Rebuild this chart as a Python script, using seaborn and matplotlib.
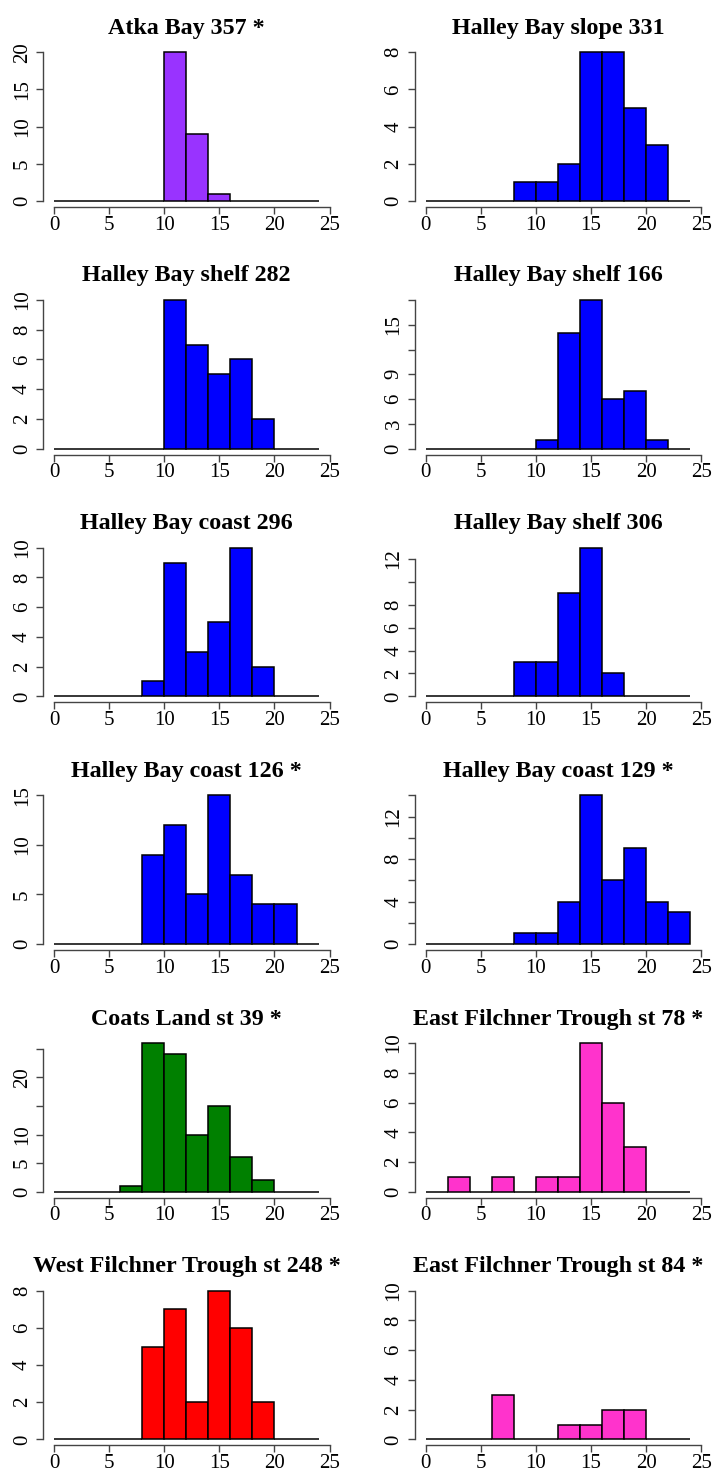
import numpy as np
import pandas as pd
import seaborn as sns
import matplotlib
matplotlib.use("Agg")
import matplotlib.pyplot as plt

sns.set_style("ticks")
plt.rcParams['font.family'] = ['Liberation Serif', 'DejaVu Serif']
plt.rcParams['text.color'] = 'black'
plt.rcParams['xtick.labelcolor'] = 'black'
plt.rcParams['ytick.labelcolor'] = 'black'

# bin edges (2-unit bins from 0 to 24) and counts per station
edges = list(range(0, 26, 2))
centers = [1, 3, 5, 7, 9, 11, 13, 15, 17, 19, 21, 23]

titles = ["Atka Bay 357 *", "Halley Bay slope 331",
          "Halley Bay shelf 282", "Halley Bay shelf 166",
          "Halley Bay coast 296", "Halley Bay shelf 306",
          "Halley Bay coast 126 *", "Halley Bay coast 129 *",
          "Coats Land st 39 *", "East Filchner Trough st 78 *",
          "West Filchner Trough st 248 *", "East Filchner Trough st 84 *"]

atka_357 = [0, 0, 0, 0, 0, 20, 9, 1, 0, 0, 0, 0]
slope_331 = [0, 0, 0, 0, 1, 1, 2, 8, 8, 5, 3, 0]
shelf_282 = [0, 0, 0, 0, 0, 10, 7, 5, 6, 2, 0, 0]
shelf_166 = [0, 0, 0, 0, 0, 1, 14, 18, 6, 7, 1, 0]
coast_296 = [0, 0, 0, 0, 1, 9, 3, 5, 10, 2, 0, 0]
shelf_306 = [0, 0, 0, 0, 3, 3, 9, 13, 2, 0, 0, 0]
coast_126 = [0, 0, 0, 0, 9, 12, 5, 15, 7, 4, 4, 0]
coast_129 = [0, 0, 0, 0, 1, 1, 4, 14, 6, 9, 4, 3]
coats_39 = [0, 0, 0, 1, 26, 24, 10, 15, 6, 2, 0, 0]
eft_78 = [0, 1, 0, 1, 0, 1, 1, 10, 6, 3, 0, 0]
wft_248 = [0, 0, 0, 0, 5, 7, 2, 8, 6, 2, 0, 0]
eft_84 = [0, 0, 0, 3, 0, 0, 1, 1, 2, 2, 0, 0]

counts = [atka_357, slope_331, shelf_282, shelf_166, coast_296, shelf_306,
          coast_126, coast_129, coats_39, eft_78, wft_248, eft_84]

colors = ["#9933FF", "#0000FF", "#0000FF", "#0000FF", "#0000FF", "#0000FF",
          "#0000FF", "#0000FF", "#008000", "#FF33CC", "#FF0000", "#FF33CC"]

# y range top (max count, or fixed) and y ticks / labels as R drew them
ytop = [20, 8, 10, 18, 10, 13, 15, 14, 26, 10, 8, 10]
yticks = [[0, 5, 10, 15, 20], [0, 2, 4, 6, 8], [0, 2, 4, 6, 8, 10],
          [0, 3, 6, 9, 12, 15, 18], [0, 2, 4, 6, 8, 10], [0, 2, 4, 6, 8, 10, 12],
          [0, 5, 10, 15], [0, 2, 4, 6, 8, 10, 12, 14], [0, 5, 10, 15, 20, 25],
          [0, 2, 4, 6, 8, 10], [0, 2, 4, 6, 8], [0, 2, 4, 6, 8, 10]]
ylabels = [["0", "5", "10", "15", "20"], ["0", "2", "4", "6", "8"],
           ["0", "2", "4", "6", "8", "10"], ["0", "3", "6", "9", "", "15", ""],
           ["0", "2", "4", "6", "8", "10"], ["0", "2", "4", "6", "8", "", "12"],
           ["0", "5", "10", "15"], ["0", "", "4", "", "8", "", "12", ""],
           ["0", "5", "10", "", "20", ""], ["0", "2", "4", "6", "8", "10"],
           ["0", "2", "4", "6", "8"], ["0", "2", "4", "6", "8", "10"]]
xticks = [0, 5, 10, 15, 20, 25]

W, H = 713, 1472
fig = plt.figure(figsize=(W / 100, H / 100), dpi=100)

for i in range(12):
    row, col = i // 2, i % 2
    left_px = 43.4 if col == 0 else 415.1
    bottom_px = 206.9 + 247.7 * row
    ax = fig.add_axes([left_px / W, 1 - bottom_px / H, 286.2 / W, 160.6 / H])
    df = pd.DataFrame({"x": centers, "n": counts[i]})
    sns.histplot(data=df, x="x", weights="n", bins=edges, ax=ax,
                 color=colors[i], alpha=1, edgecolor="black", linewidth=1.1)
    ax.set_xlim(-0.96, 24.96)
    ax.set_ylim(-0.04 * ytop[i], 1.04 * ytop[i])
    ax.set_xticks(xticks)
    ax.set_xticklabels([str(t) for t in xticks])
    ax.set_yticks(yticks[i])
    ax.set_yticklabels(ylabels[i], rotation=90, va="center")
    ax.set_xlabel("")
    ax.set_ylabel("")
    sns.despine(ax=ax)
    ax.spines["left"].set_bounds(0, yticks[i][-1])
    ax.spines["bottom"].set_bounds(0, 25)
    for s in ["left", "bottom"]:
        ax.spines[s].set_linewidth(1.0)
        ax.spines[s].set_color("#444444")
    ax.tick_params(axis="both", direction="out", length=5.3, width=1.0,
                   color="#444444", labelsize=15, labelcolor="black")
    ax.tick_params(axis="x", pad=1)
    ax.tick_params(axis="y", pad=3)
    ax.set_title(titles[i], fontsize=17.3, fontweight="bold", pad=9,
                 color="black")

fig.savefig("out.png", dpi=100)
